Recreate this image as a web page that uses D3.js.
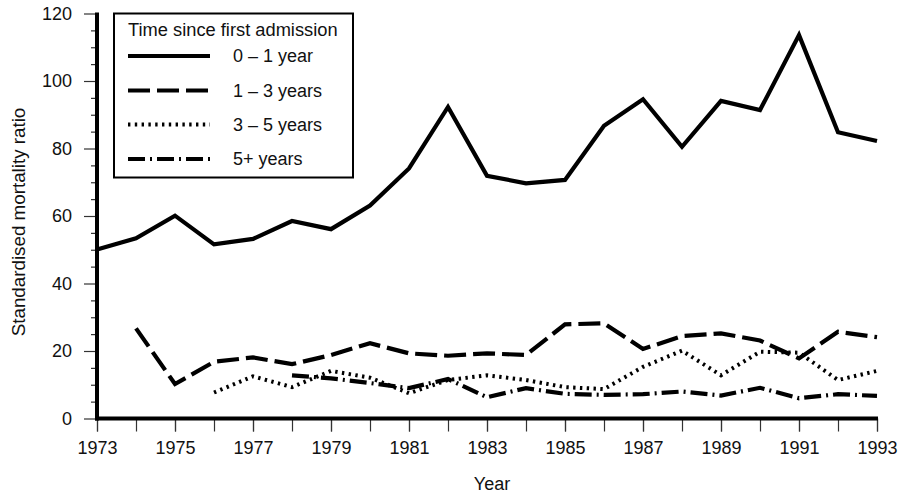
<!DOCTYPE html>
<html>
<head>
<meta charset="utf-8">
<script src="https://cdn.jsdelivr.net/npm/d3@7"></script>
<style>
  html, body { margin: 0; padding: 0; background: #fff; }
  svg { display: block; font-family: "Liberation Sans", Arial, Helvetica, sans-serif; }
</style>
</head>
<body>
<svg id="chart" width="899" height="495"></svg>
<script>
// ---- data ----
const years = [1973,1974,1975,1976,1977,1978,1979,1980,1981,1982,1983,1984,1985,1986,1987,1988,1989,1990,1991,1992,1993];
const seriesNames = ["0 – 1 year", "1 – 3 years", "3 – 5 years", "5+ years"];
const smr0to1 = [50.1,53.4,60.1,51.6,53.2,58.5,56.1,63.1,74.1,92.3,71.9,69.7,70.7,86.7,94.6,80.5,94.1,91.4,113.6,84.8,82.2];
const smr1to3 = [null,26.7,10.2,16.8,18.1,16.1,18.8,22.3,19.3,18.6,19.3,18.8,27.9,28.2,20.6,24.4,25.2,23.1,17.8,25.7,24.1];
const smr3to5 = [null,null,null,7.7,12.5,9.3,14.1,12.1,7.5,11.4,12.8,11.4,9.3,8.7,15.3,20.1,12.8,19.8,19.5,11.4,14.1];
const smr5plus = [null,null,null,null,null,12.8,11.9,10.5,9.0,11.7,6.3,9.0,7.3,7.0,7.2,8.0,6.8,9.1,6.0,7.2,6.7];
const yMajorTicks = [0,20,40,60,80,100,120];
const yMinorTicks = [5,10,15,25,30,35,45,50,55,65,70,75,85,90,95,105,110,115];
const xLabelTicks = [1973,1975,1977,1979,1981,1983,1985,1987,1989,1991,1993];
const legendTitle = "Time since first admission";
const xTitle = "Year";
const yTitle = "Standardised mortality ratio";

// ---- styles per series ----
const styles = [
  { width: 4.2, dash: null },
  { width: 4.2, dash: "22,7" },
  { width: 4, dash: "2.4,4.4" },
  { width: 4.2, dash: "17,5,2,5" }
];
const allSeries = [smr0to1, smr1to3, smr3to5, smr5plus];

const svg = d3.select("#chart");
const x = d3.scaleLinear().domain([1973, 1993]).range([97, 877]);
const y = d3.scaleLinear().domain([0, 120]).range([418.5, 13.5]);

// y axis minor ticks
svg.append("g").attr("transform", `translate(${x(1973)},0)`)
  .call(d3.axisLeft(y).tickValues(yMinorTicks).tickSize(6).tickFormat(""));
// y axis major ticks
svg.append("g").attr("transform", `translate(${x(1973)},0)`)
  .call(d3.axisLeft(y).tickValues(yMajorTicks).tickSize(13).tickPadding(12).tickFormat(d3.format("d")));
// x axis ticks (every year)
svg.append("g").attr("transform", `translate(0,${y(0)})`)
  .call(d3.axisBottom(x).tickValues(years).tickSize(13).tickFormat(""));
// x axis labels
svg.append("g").attr("transform", `translate(0,${y(0)})`)
  .call(d3.axisBottom(x).tickValues(xLabelTicks).tickSize(13).tickPadding(10).tickFormat(d3.format("d")));

svg.selectAll(".domain").remove();
svg.selectAll(".tick line").attr("stroke", "#333").attr("stroke-width", 1.2);
svg.selectAll(".tick text").attr("font-size", 18).attr("fill", "#111")
  .attr("font-family", "'Liberation Sans', Arial, Helvetica, sans-serif");

// thick axis lines
svg.append("line").attr("x1", x(1973)).attr("x2", x(1973)).attr("y1", y(120) - 1).attr("y2", y(0) + 2)
  .attr("stroke", "#000").attr("stroke-width", 4);
svg.append("line").attr("x1", x(1973) - 2).attr("x2", x(1993) + 1).attr("y1", y(0)).attr("y2", y(0))
  .attr("stroke", "#000").attr("stroke-width", 4);

// data lines
const line = d3.line()
  .defined(d => d.v !== null)
  .x(d => x(d.year))
  .y(d => y(d.v));

allSeries.forEach((vals, i) => {
  const pts = years.map((yr, j) => ({ year: yr, v: vals[j] }));
  const p = svg.append("path")
    .datum(pts)
    .attr("d", line)
    .attr("fill", "none")
    .attr("stroke", "#000")
    .attr("stroke-width", styles[i].width)
    .attr("stroke-linejoin", "miter");
  if (styles[i].dash) p.attr("stroke-dasharray", styles[i].dash);
});

// axis titles
svg.append("text").attr("x", 492).attr("y", 490).attr("text-anchor", "middle")
  .attr("font-size", 18).attr("fill", "#111").text(xTitle);
svg.append("text").attr("transform", "translate(25,222) rotate(-90)").attr("text-anchor", "middle")
  .attr("font-size", 18.8).attr("fill", "#111").text(yTitle);

// legend
const lg = svg.append("g");
lg.append("rect").attr("x", 114).attr("y", 13.5).attr("width", 239).attr("height", 164)
  .attr("fill", "#fff").attr("stroke", "#000").attr("stroke-width", 2);
lg.append("text").attr("x", 128).attr("y", 36).attr("font-size", 18.3).attr("fill", "#111").text(legendTitle);
const rowY = [56, 90.5, 124.5, 159];
seriesNames.forEach((name, i) => {
  const l = lg.append("line").attr("x1", 128).attr("x2", 210).attr("y1", rowY[i]).attr("y2", rowY[i])
    .attr("stroke", "#000").attr("stroke-width", i === 2 ? 3.8 : 3.8);
  if (styles[i].dash) l.attr("stroke-dasharray", styles[i].dash);
  lg.append("text").attr("x", 233).attr("y", rowY[i]).attr("dy", "0.35em")
    .attr("font-size", 18).attr("fill", "#111").text(name);
});
</script>
</body>
</html>
